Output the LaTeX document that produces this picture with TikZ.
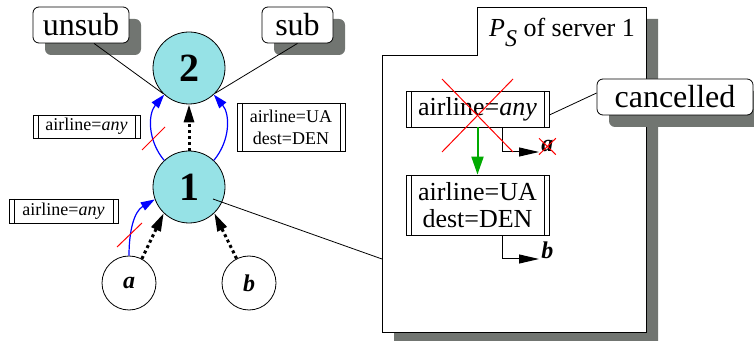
\documentclass[tikz,border=0pt]{standalone}
\usepackage{fontspec}
\setmainfont{Liberation Serif}
\usetikzlibrary{arrows.meta,shadows}
\definecolor{nodecyan}{RGB}{150,226,230}
\definecolor{shadowgray}{RGB}{113,117,113}
\definecolor{arrowgreen}{RGB}{0,170,0}
\tikzset{
	srvnode/.style={circle,draw,fill=nodecyan,minimum size=36pt,inner sep=0pt,font=\fontsize{20}{22}\selectfont},
	clinode/.style={circle,draw,fill=white,minimum size=27pt,inner sep=0pt,font=\fontsize{12}{14}\selectfont\bfseries\itshape},
	tagbox/.style={draw,rounded corners=3pt,fill=white,minimum height=18pt,inner sep=2pt,font=\fontsize{16}{18}\selectfont,
		drop shadow={shadow xshift=6pt,shadow yshift=-6pt,fill=shadowgray,opacity=1}},
	filterbox/.style={draw,fill=white,align=center,inner sep=0pt,
		path picture={\draw ([xshift=2.5pt]path picture bounding box.north west) -- ([xshift=2.5pt]path picture bounding box.south west)
			([xshift=-2.5pt]path picture bounding box.north east) -- ([xshift=-2.5pt]path picture bounding box.south east);}},
	smallfilter/.style={filterbox,font=\fontsize{9}{11}\selectfont},
	bigfilter/.style={filterbox,minimum width=71.5pt,font=\fontsize{13}{13.5}\selectfont},
	outlbl/.style={inner sep=1pt,font=\fontsize{12}{14}\selectfont\bfseries\itshape},
	bluearr/.style={blue,line width=0.6pt,-{Triangle[length=7pt,width=4.5pt]}},
	dotarr/.style={line width=1.5pt,dash pattern=on 1.5pt off 1.5pt,-{Triangle[length=9pt,width=5pt]}},
	greenarr/.style={arrowgreen,line width=1pt,-{Triangle[length=9pt,width=6pt]}},
	outarr/.style={line width=0.5pt,-{Triangle[length=10pt,width=4.5pt]}},
	strike/.style={red,line width=0.5pt}
}
\begin{document}
\begin{tikzpicture}[x=0.5pt,y=-0.5pt]
			\useasboundingbox (0,0) rectangle (754,341);

			% table of server 1
			\fill[shadowgray,shift={(12,12)}] (382,55) -- (477,55) -- (477,7) -- (646,7) -- (646,332) -- (382,332) -- cycle;
			\draw[fill=white] (382,55) -- (477,55) -- (477,7) -- (646,7) -- (646,332) -- (382,332) -- cycle;
			\coordinate (tbl) at (382,259);
			\node[anchor=base,font=\fontsize{13}{15}\selectfont] (title) at (562,37) {\textit{P}\raisebox{-5pt}{\fontsize{12}{14}\selectfont\textit{S}}\ of server 1};

			\node[bigfilter,minimum height=18pt] (in1) at (477.5,109) {airline=\textit{any}};
			\node[bigfilter,minimum height=30pt] (in2) at (477.5,205) {airline=UA\\dest=DEN};
			\node[outlbl,anchor=base west] (ta) at (539,152) {a};
			\node[outlbl,anchor=base west] (tb) at (539,259) {b};

			\draw[greenarr] (in1) -- (in2);
			\draw[outarr] ([xshift=12.25pt]in1.south) |- (ta.base west);
			\draw[outarr] ([xshift=12.25pt]in2.south) |- (tb.base west);

			\node[tagbox,minimum width=78pt] (cancel) at (675,97) {cancelled};
			\draw ([yshift=2pt]cancel.west) -- ([yshift=-3pt]in1.east);

			% servers and clients
			\node[srvnode] (2) at (189,68) {$\mathbf{2}$};
			\node[srvnode] (1) at (189,187) {$\mathbf{1}$};
			\node[clinode] (a) at (129,283) {a};
			\node[clinode] (b) at (249,283) {b};

			\node[tagbox,minimum width=48pt] (unsub) at (81,25) {unsub};
			\node[tagbox,minimum width=35.5pt] (sub) at (297.5,25) {sub};
			\draw ([xshift=6.5pt]unsub.south) -- (2.225);
			\draw (sub.south) -- (2.316);

			\node[smallfilter,minimum width=53.5pt,minimum height=11.5pt] (f21) at (86.5,126.5) {airline=\textit{any}};
			\node[smallfilter,minimum width=54pt,minimum height=24pt] (f22) at (291,127) {airline=UA\\dest=DEN};
			\node[smallfilter,minimum width=54.5pt,minimum height=12pt] (f1) at (63.5,211) {airline=\textit{any}};

			\draw[bluearr] (1.133) to[bend left=40] (2.227);
			\draw[bluearr] (1.47) to[bend right=40] (2.313);
			\draw[dotarr] (1) -- (2);
			\draw[bluearr] (a.north) to[out=90,in=210] (1.200);
			\draw[dotarr] (a.62) -- (1.226);
			\draw[dotarr] (b.117) -- (1.314);

			\draw ([shift={(12pt,-6pt)}]1.center) -- (tbl);

			% cancelled subscriptions
			\draw[strike] (142,150) -- (165,127);
			\draw[strike] (117,247) -- (142,223);
			\draw[strike] (442,79) -- (513,152);
			\draw[strike] (513,79) -- (442,152);
			\draw[strike] (ta.north west) -- (ta.south east);
			\draw[strike] (ta.north east) -- (ta.south west);
		\end{tikzpicture}
\end{document}
